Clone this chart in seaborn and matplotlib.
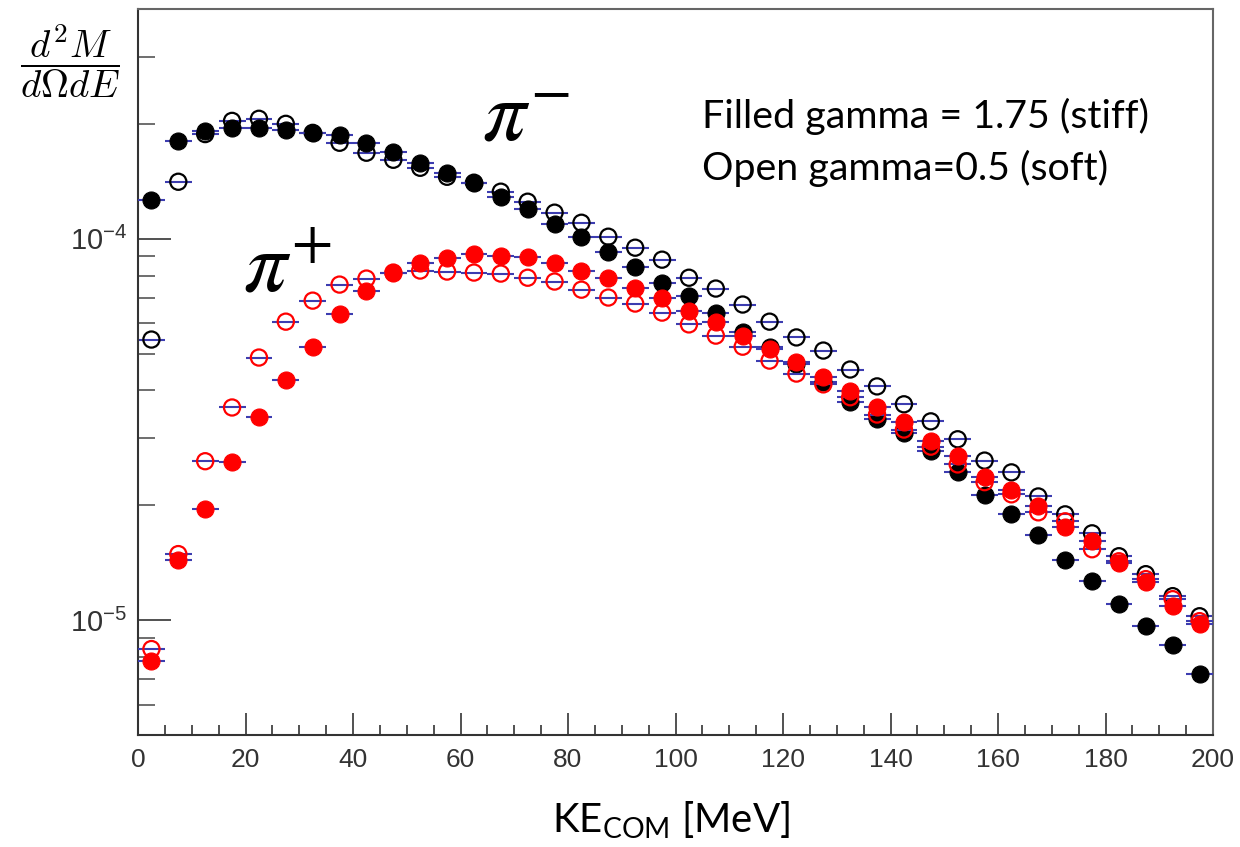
import numpy as np
import matplotlib
matplotlib.use('Agg')
import matplotlib.pyplot as plt
import seaborn as sns
from matplotlib.ticker import MultipleLocator, FixedLocator, LogLocator, NullFormatter

# bin centres, KE_COM [MeV]
ke = [2.5, 7.5, 12.5, 17.5, 22.5, 27.5, 32.5, 37.5, 42.5, 47.5,
      52.5, 57.5, 62.5, 67.5, 72.5, 77.5, 82.5, 87.5, 92.5, 97.5,
      102.5, 107.5, 112.5, 117.5, 122.5, 127.5, 132.5, 137.5, 142.5, 147.5,
      152.5, 157.5, 162.5, 167.5, 172.5, 177.5, 182.5, 187.5, 192.5, 197.5]

# d2M/dOmega dE in units of 1e-4
pim_filled = [1.265, 1.805, 1.918, 1.953, 1.953, 1.929, 1.894, 1.872, 1.784, 1.690,
              1.581, 1.489, 1.402, 1.288, 1.198, 1.095, 1.012, 0.925, 0.845, 0.767,
              0.709, 0.640, 0.571, 0.521, 0.468, 0.422, 0.374, 0.336, 0.310, 0.277,
              0.244, 0.2124, 0.1894, 0.1669, 0.1436, 0.1265, 0.1101, 0.0965, 0.0860, 0.0722]
pim_open = [0.544, 1.410, 1.880, 2.036, 2.062, 2.000, 1.894, 1.784, 1.680, 1.610,
            1.534, 1.453, 1.402, 1.328, 1.250, 1.170, 1.101, 1.012, 0.947, 0.881,
            0.790, 0.740, 0.672, 0.606, 0.551, 0.509, 0.454, 0.410, 0.368, 0.332,
            0.298, 0.262, 0.244, 0.211, 0.1894, 0.1689, 0.1471, 0.1320, 0.1156, 0.1024]
pip_filled = [0.0781, 0.1436, 0.1953, 0.2593, 0.340, 0.425, 0.521, 0.633, 0.727, 0.815,
              0.865, 0.892, 0.913, 0.903, 0.897, 0.865, 0.825, 0.790, 0.744, 0.697,
              0.648, 0.603, 0.557, 0.515, 0.474, 0.433, 0.398, 0.361, 0.330, 0.294,
              0.269, 0.238, 0.219, 0.199, 0.176, 0.161, 0.141, 0.1257, 0.1088, 0.0976]
pip_open = [0.0840, 0.149, 0.261, 0.361, 0.488, 0.606, 0.688, 0.758, 0.786, 0.815,
            0.825, 0.820, 0.815, 0.810, 0.790, 0.772, 0.735, 0.701, 0.676, 0.640,
            0.596, 0.557, 0.521, 0.479, 0.443, 0.415, 0.384, 0.346, 0.316, 0.285,
            0.256, 0.230, 0.2137, 0.1917, 0.1816, 0.1534, 0.1427, 0.1281, 0.1135, 0.0994]
unit = 1e-4
half_bin = 2.5

sns.set_style('white')
plt.rcParams['font.family'] = ['Liberation Sans', 'DejaVu Sans']
plt.rcParams['text.color'] = 'black'
plt.rcParams['mathtext.fontset'] = 'custom'
plt.rcParams['mathtext.rm'] = 'Liberation Sans'
plt.rcParams['mathtext.it'] = 'Liberation Sans:italic'
plt.rcParams['mathtext.sf'] = 'Lato'

fig = plt.figure(figsize=(12.4, 8.47), dpi=100)
ax = fig.add_axes([138 / 1240, 1 - 735 / 847, (1213 - 138) / 1240, (735 - 9) / 847])

series = [(pim_open, 'black', False), (pim_filled, 'black', True),
          (pip_open, 'red', False), (pip_filled, 'red', True)]
z = 2
for vals, col, filled in series:
    yv = np.array(vals) * unit
    ax.errorbar(ke, yv, xerr=half_bin, fmt='none', ecolor='#3c3cb0', elinewidth=1.5,
                capsize=0, zorder=z)
    if filled:
        sns.scatterplot(x=ke, y=yv, ax=ax, color=col, edgecolor=col, s=150,
                        linewidth=0.8, zorder=z + 1)
    else:
        sns.scatterplot(x=ke, y=yv, ax=ax, facecolor='none', edgecolor=col, s=135,
                        linewidth=1.6, zorder=z + 1)
    z += 2

ax.set_yscale('log')
ax.set_xlim(0, 200)
ax.set_ylim(5e-6, 4e-4)
ax.xaxis.set_major_locator(MultipleLocator(20))
ax.xaxis.set_minor_locator(MultipleLocator(5))
ax.yaxis.set_major_locator(FixedLocator([1e-5, 1e-4]))
ax.yaxis.set_minor_locator(LogLocator(base=10, subs=[2, 3, 4, 5, 6, 7, 8, 9]))
ax.yaxis.set_minor_formatter(NullFormatter())
ax.set_yticklabels([r'$10^{-5}$', r'$10^{-4}$'])
ax.set_xlabel('')
ax.set_ylabel('')

ax.tick_params(axis='x', which='major', direction='in', length=16, width=1.2,
               labelsize=19, pad=9, colors='#333333', bottom=True, top=False)
ax.tick_params(axis='x', which='minor', direction='in', length=7.5, width=1.2,
               colors='#333333', bottom=True, top=False)
ax.tick_params(axis='y', which='major', direction='in', length=24, width=1.2,
               labelsize=21, pad=8, colors='#333333', left=True, right=False)
ax.tick_params(axis='y', which='minor', direction='in', length=12, width=1.2,
               colors='#555555', left=True, right=False)
for sp in ax.spines.values():
    sp.set_color('#333333')
    sp.set_linewidth(1.5)
ax.spines['top'].set_color('#666666')
ax.spines['right'].set_color('#666666')

# annotations
fig.text(482 / 1240, 1 - 140 / 847, r'$\pi^{-}$', fontsize=62, math_fontfamily='stix',
         ha='left', va='baseline')
fig.text(243 / 1240, 1 - 290 / 847, r'$\pi^{+}$', fontsize=62, math_fontfamily='stix',
         ha='left', va='baseline')
fig.text(70 / 1240, 1 - 61 / 847, r'$\dfrac{d^2M}{d\Omega dE}$', fontsize=28,
         math_fontfamily='cm', ha='center', va='center')
fig.text(702 / 1240, 1 - 128 / 847, 'Filled gamma = 1.75 (stiff)', fontsize=28.4,
         family='Lato', ha='left', va='baseline')
fig.text(702 / 1240, 1 - 180 / 847, 'Open gamma=0.5 (soft)', fontsize=28.4,
         family='Lato', ha='left', va='baseline')
fig.text(552 / 1240, 1 - 832 / 847, r'KE$_{\mathsf{COM}}$ [MeV]', fontsize=29,
         family='Lato', ha='left', va='baseline')

fig.savefig('out.png', dpi=100)
